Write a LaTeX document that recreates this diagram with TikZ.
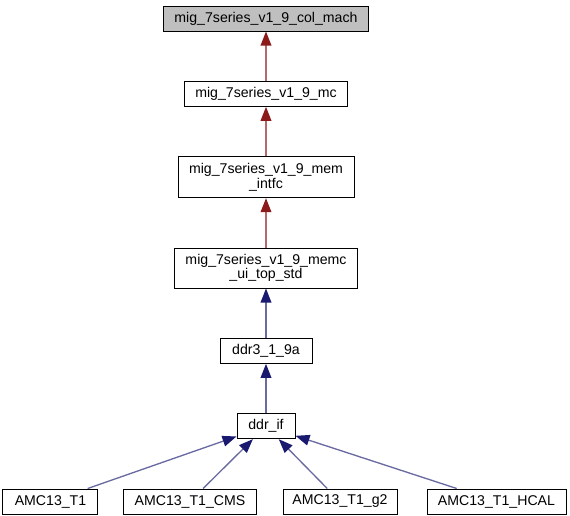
\documentclass[tikz,border=0pt]{standalone}
\usepackage{fontspec}
\setmainfont{Liberation Sans}
\usetikzlibrary{positioning,arrows.meta}
\definecolor{firebrick}{RGB}{139,26,26}
\definecolor{midnight}{RGB}{25,25,112}
\tikzset{
    node distance=37pt,
    block/.style = {
        draw,
        shape=rectangle,
        minimum height=18.75pt,
        inner sep=0pt,
        line width=0.75pt,
        align=center,
        font=\fontsize{10.6}{11}\selectfont
    },
    root/.style = {
        block,
        fill=black!25
    },
    redlink/.style = {
        draw=firebrick!65,
        line width=1pt,
        -{Triangle[length=10.5pt,width=8pt,color=firebrick]}
    },
    bluelink/.style = {
        draw=midnight!65,
        line width=1pt,
        -{Triangle[length=10.5pt,width=8pt,color=midnight]}
    },
}

\begin{document}
\begin{tikzpicture}
        \useasboundingbox (-199.5pt,13.875pt) rectangle (228pt,-372.375pt);
        \node[root, minimum width=153.75pt] (colmach) at (0,0) {mig\_7series\_v1\_9\_col\_mach};
        \node[block, minimum width=122.25pt, below=of colmach] (mc) {mig\_7series\_v1\_9\_mc};
        \node[block, minimum width=132pt, minimum height=30.75pt, below=of mc] (memintfc) {mig\_7series\_v1\_9\_mem\\\_intfc};
        \node[block, minimum width=137.25pt, minimum height=30pt, below=of memintfc] (memc) {mig\_7series\_v1\_9\_memc\\\_ui\_top\_std};
        \node[block, minimum width=69pt, below=of memc] (ddr3) {ddr3\_1\_9a};
        \node[block, minimum width=43.5pt, below=of ddr3] (ddrif) {ddr\_if};

        % users of ddr_if
        \node[block, minimum width=85.5pt, below=of ddrif, xshift=55.5pt] (g2) {AMC13\_T1\_g2};
        \node[block, minimum width=99pt, left=19.5pt of g2] (cms) {AMC13\_T1\_CMS};
        \node[block, minimum width=71.25pt, left=18.75pt of cms] (t1) {AMC13\_T1};
        \node[block, minimum width=104.25pt, right=21.75pt of g2] (hcal) {AMC13\_T1\_HCAL};

        \path[redlink] (mc) -- (colmach);
        \path[redlink] (memintfc) -- (mc);
        \path[redlink] (memc) -- (memintfc);
        \path[bluelink] (ddr3) -- (memc);
        \path[bluelink] (ddrif) -- (ddr3);

        \path[bluelink] (t1) -- (ddrif);
        \path[bluelink] (cms) -- (ddrif);
        \path[bluelink] (g2) -- (ddrif);
        \path[bluelink] (hcal) -- (ddrif);
    \end{tikzpicture}
\end{document}
